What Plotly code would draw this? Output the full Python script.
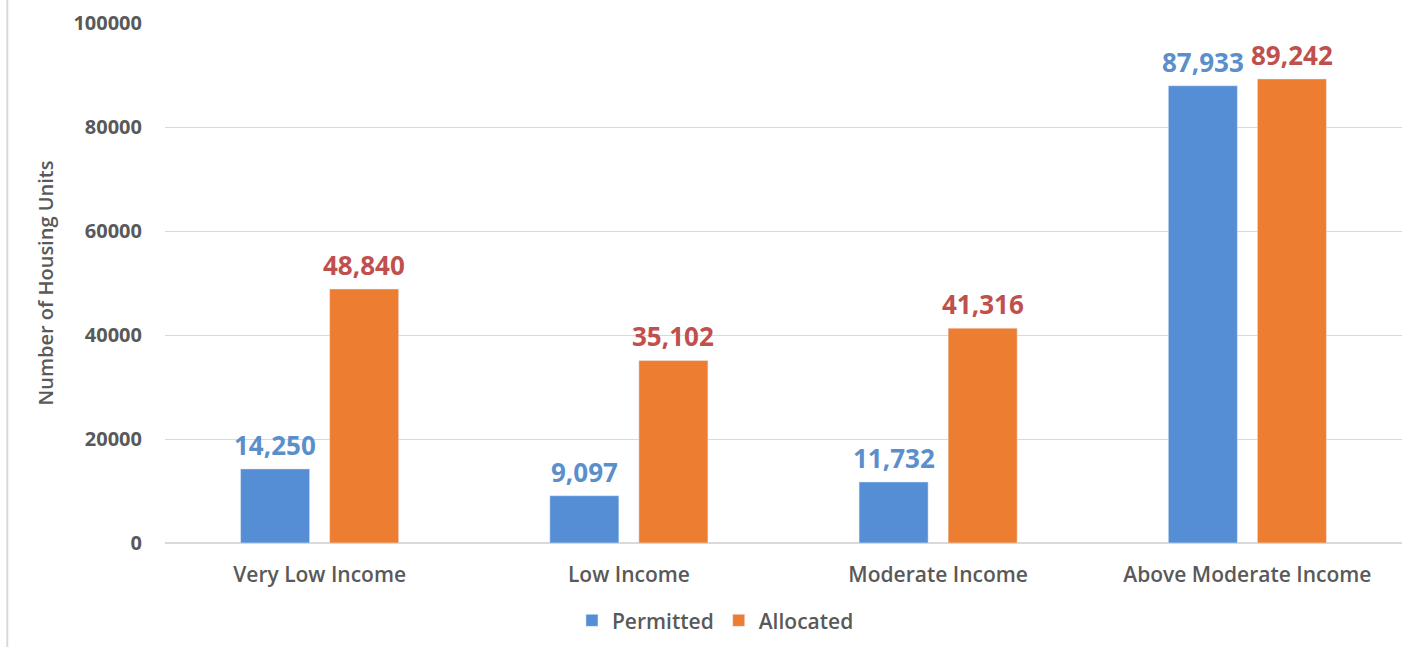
import plotly.graph_objects as go

categories = ["Very Low Income", "Low Income", "Moderate Income", "Above Moderate Income"]
permitted = [14250, 9097, 11732, 87933]
allocated = [48840, 35102, 41316, 89242]
y_ticks = [0, 20000, 40000, 60000, 80000, 100000]

BLUE = "#558ED5"
ORANGE = "#ED7D31"
BLUE_TXT = "#5B8FCC"
RED_TXT = "#C0504D"
GRAY = "#595959"
FONT = "Open Sans"

fig = go.Figure()
fig.add_trace(go.Bar(name="Permitted", x=categories, y=permitted, marker_color=BLUE))
fig.add_trace(go.Bar(name="Allocated", x=categories, y=allocated, marker_color=ORANGE))

# value labels above each bar
for vals, col, off in [(permitted, BLUE_TXT, -0.5), (allocated, RED_TXT, 0.5)]:
    for i, v in enumerate(vals):
        fig.add_annotation(
            x=i, y=v, xref="x", yref="y", text=f"{v:,}", showarrow=False,
            xshift=off * 89, yanchor="bottom", yshift=4,
            font=dict(family=FONT, size=26, color=col, weight=700),
        )

# thin frame line at the left edge
fig.add_shape(type="line", xref="paper", yref="paper", x0=-0.1275, x1=-0.1275, y0=-0.2, y1=1.05,
              line=dict(color="#D9D9D9", width=2))

fig.update_layout(
    width=1410, height=650,
    margin=dict(l=165, r=8, t=23, b=107),
    paper_bgcolor="white", plot_bgcolor="white",
    barmode="group", bargap=0.424, bargroupgap=0.225,
    font=dict(family=FONT, color=GRAY),
    showlegend=True,
    legend=dict(orientation="h", x=0.445, xanchor="center", y=-0.11, yanchor="top",
                font=dict(family=FONT, size=21, color=GRAY, weight=600),
                itemwidth=30, traceorder="normal"),
    xaxis=dict(
        tickfont=dict(family=FONT, size=21, color=GRAY, weight=600),
        showline=False, ticks="", ticklabelstandoff=17,
    ),
    yaxis=dict(
        range=[0, 100000], tickvals=y_ticks, ticktext=[str(t) for t in y_ticks],
        tickfont=dict(family=FONT, size=20, color=GRAY, weight=700),
        gridcolor="#D9D9D9", gridwidth=1, zeroline=True, zerolinecolor="#D9D9D9",
        showline=False, ticks="", ticklabelstandoff=22,
        title=dict(text="Number of Housing Units", standoff=14,
                   font=dict(family=FONT, size=20, color=GRAY, weight=600)),
    ),
)

fig.write_html("out.html")
